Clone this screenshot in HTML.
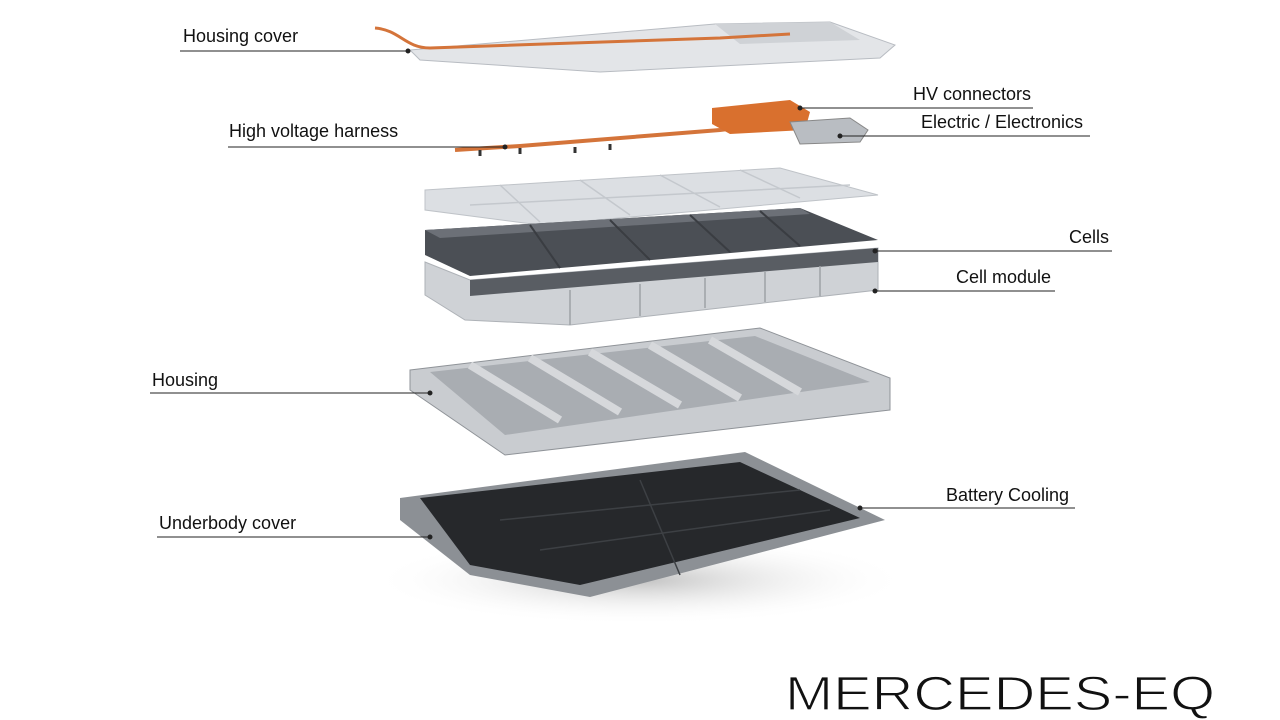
<!DOCTYPE html>
<html><head><meta charset="utf-8"><style>
html,body{margin:0;padding:0;background:#fff;}
body{width:1280px;height:720px;overflow:hidden;position:relative;font-family:"Liberation Sans",sans-serif;}
.l{position:absolute;font-size:18px;color:#111;white-space:nowrap;}
</style></head><body>
<svg width="1280" height="720" viewBox="0 0 1280 720" style="position:absolute;left:0;top:0">
<defs>
<radialGradient id="sh" cx="0.5" cy="0.5" r="0.5"><stop offset="0" stop-color="#999" stop-opacity="0.6"/><stop offset="1" stop-color="#fff" stop-opacity="0"/></radialGradient>
</defs>
<polygon points="410,50 715,24 830,22 895,45 880,58 600,72 420,60" fill="#e3e5e8" stroke="#b8bcc2"/>
<polygon points="715,24 830,22 860,40 740,44" fill="#cfd2d6"/>
<path d="M375,28 C400,30 405,48 430,48 L720,38 L790,34" stroke="#d4743a" stroke-width="3" fill="none"/>
<path d="M455,150 L520,146 L720,130 L800,120" stroke="#d4743a" stroke-width="4" fill="none"/>
<path d="M480,150 l0,6 M575,147 l0,6 M610,144 l0,6 M520,148 l0,6" stroke="#333" stroke-width="3"/>
<polygon points="712,108 790,100 810,112 805,130 730,134 712,124" fill="#d9702e"/>
<polygon points="790,122 850,118 868,130 860,142 800,144" fill="#b9bdc2" stroke="#888"/>
<polygon points="425,190 780,168 878,195 540,225 425,210" fill="#dcdfe3" stroke="#bfc3c8"/>
<path d="M500,185 L540,222 M580,180 L630,215 M660,175 L720,207 M740,170 L800,198 M470,205 L850,185" stroke="#c4c8cd" stroke-width="1.5"/>
<polygon points="425,230 800,208 878,240 470,276 425,255" fill="#4b4f55"/>
<polygon points="425,230 800,208 810,214 440,238" fill="#6c7077"/>
<path d="M530,225 L560,268 M610,220 L650,260 M690,215 L730,252 M760,211 L800,246" stroke="#3a3d42" stroke-width="2"/>
<polygon points="425,262 470,280 878,248 878,290 570,325 465,320 425,295" fill="#cfd2d6" stroke="#aeb2b7"/>
<polygon points="470,280 878,248 878,262 470,296" fill="#595d63"/>
<path d="M570,290 L570,325 M640,284 L640,316 M705,278 L705,308 M765,272 L765,302 M820,266 L820,296" stroke="#9da1a6" stroke-width="1.5"/>
<polygon points="410,370 760,328 890,378 890,410 505,455 410,390" fill="#c9ccd0" stroke="#8f9398"/>
<polygon points="430,372 755,336 870,382 505,435" fill="#a9adb2"/>
<path d="M470,365 L560,420 M530,358 L620,412 M590,352 L680,405 M650,345 L740,398 M710,340 L800,392" stroke="#d6d8db" stroke-width="8"/>
<ellipse cx="640" cy="580" rx="270" ry="45" fill="url(#sh)"/>
<polygon points="400,498 745,452 885,520 590,597 470,575 400,520" fill="#8c9095"/>
<polygon points="420,498 740,462 860,518 580,585 470,565" fill="#26282b"/>
<path d="M500,520 L800,490 M540,550 L830,510 M640,480 L680,575" stroke="#3d4044" stroke-width="1.5"/>
<g stroke="#222" stroke-width="1" fill="#222">
<line x1="180" y1="51" x2="408" y2="51"/><circle cx="408" cy="51" r="2"/>
<line x1="228" y1="147" x2="505" y2="147"/><circle cx="505" cy="147" r="2"/>
<line x1="800" y1="108" x2="1033" y2="108"/><circle cx="800" cy="108" r="2"/>
<line x1="840" y1="136" x2="1090" y2="136"/><circle cx="840" cy="136" r="2"/>
<line x1="875" y1="251" x2="1112" y2="251"/><circle cx="875" cy="251" r="2"/>
<line x1="875" y1="291" x2="1055" y2="291"/><circle cx="875" cy="291" r="2"/>
<line x1="150" y1="393" x2="430" y2="393"/><circle cx="430" cy="393" r="2"/>
<line x1="860" y1="508" x2="1075" y2="508"/><circle cx="860" cy="508" r="2"/>
<line x1="157" y1="537" x2="430" y2="537"/><circle cx="430" cy="537" r="2"/>
</g>
<text x="785" y="710" font-family="Liberation Sans, sans-serif" font-size="48" fill="#111" stroke="#fff" stroke-width="1.2" textLength="430" lengthAdjust="spacingAndGlyphs">MERCEDES-EQ</text>
</svg>
<div class="l" style="left:183px;top:26px">Housing cover</div>
<div class="l" style="left:229px;top:121px">High voltage harness</div>
<div class="l" style="left:913px;top:84px">HV connectors</div>
<div class="l" style="left:921px;top:112px">Electric / Electronics</div>
<div class="l" style="left:1069px;top:227px">Cells</div>
<div class="l" style="left:956px;top:267px">Cell module</div>
<div class="l" style="left:152px;top:370px">Housing</div>
<div class="l" style="left:946px;top:485px">Battery Cooling</div>
<div class="l" style="left:159px;top:513px">Underbody cover</div>
</body></html>
